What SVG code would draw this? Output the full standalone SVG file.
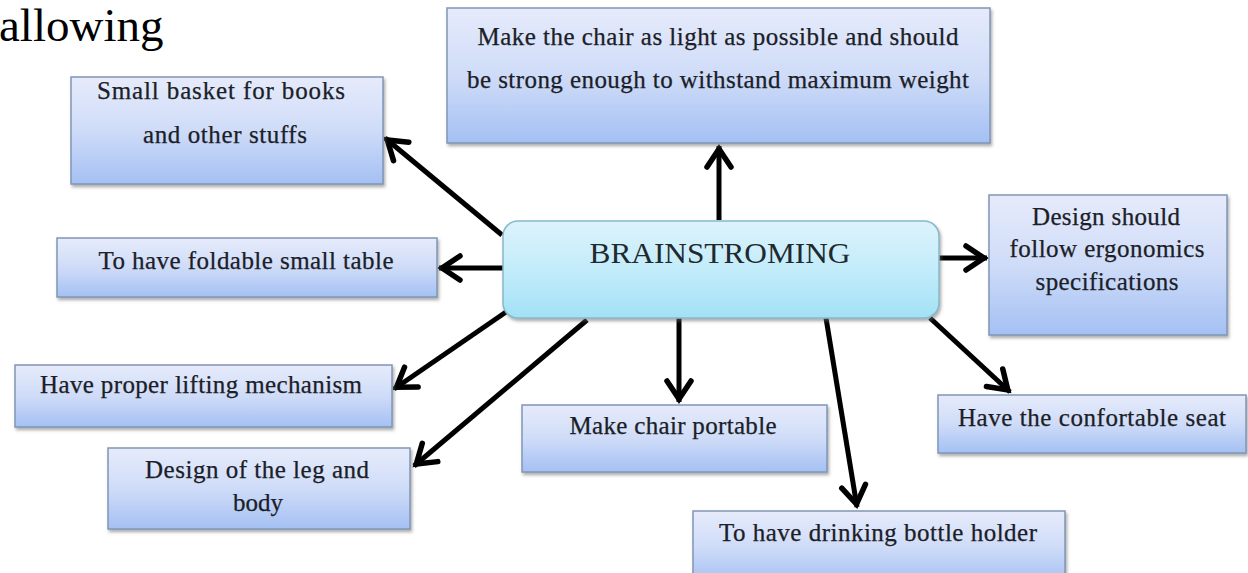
<svg xmlns="http://www.w3.org/2000/svg" width="1248" height="573" viewBox="0 0 1248 573">
  <defs>
    <linearGradient id="boxFill" x1="0" y1="0" x2="0" y2="1">
      <stop offset="0" stop-color="#e6ebfb"/>
      <stop offset="0.5" stop-color="#cfdcf8"/>
      <stop offset="1" stop-color="#a4c0f3"/>
    </linearGradient>
    <linearGradient id="hubFill" x1="0" y1="0" x2="0" y2="1">
      <stop offset="0" stop-color="#dcf3fb"/>
      <stop offset="0.5" stop-color="#c3ecfa"/>
      <stop offset="1" stop-color="#a2e1f6"/>
    </linearGradient>
    <filter id="shadow" x="-5%" y="-10%" width="112%" height="130%">
      <feDropShadow dx="1.5" dy="2.5" stdDeviation="1.6" flood-color="#6d6d6d" flood-opacity="0.55"/>
    </filter>
    <marker id="head" markerUnits="userSpaceOnUse" viewBox="-26 -17 32 34" refX="3" refY="0" markerWidth="32" markerHeight="34" orient="auto">
      <path d="M-18,-12 L0,0 L-18,12" fill="none" stroke="#000" stroke-width="5.5" stroke-linecap="round" stroke-linejoin="miter"/>
    </marker>
  </defs>
  <style>
    .box { fill: url(#boxFill); stroke: #8196b6; stroke-width: 1.5; filter: url(#shadow); }
    .hub { fill: url(#hubFill); stroke: #86b9c9; stroke-width: 1.5; filter: url(#shadow); }
    .t { font-family: "Liberation Serif", "Times New Roman", serif; font-size: 25px; fill: #1b2026; text-anchor: middle; stroke: #1b2026; stroke-width: 0.25; }
    .hubt { font-family: "Liberation Serif", "Times New Roman", serif; font-size: 30px; fill: #1e2a30; text-anchor: middle; }
    .edge { stroke: #000; stroke-width: 5; fill: none; marker-end: url(#head); }
  </style>

  <rect width="1248" height="573" fill="#ffffff"/>

  <!-- heading fragment at top left -->
  <text x="-1" y="41" font-family="Liberation Serif, serif" font-size="47" fill="#000">allowing</text>

  <!-- connectors from the hub to each idea -->
  <g id="connectors">
    <line class="edge" x1="719" y1="220" x2="719" y2="146"/>
    <line class="edge" x1="502" y1="235" x2="385" y2="138"/>
    <line class="edge" x1="503" y1="268" x2="439" y2="268"/>
    <line class="edge" x1="939" y1="258" x2="987" y2="258"/>
    <line class="edge" x1="506" y1="312" x2="394" y2="389"/>
    <line class="edge" x1="587" y1="320" x2="414" y2="466"/>
    <line class="edge" x1="679" y1="318" x2="679" y2="402"/>
    <line class="edge" x1="826" y1="318" x2="857" y2="507"/>
    <line class="edge" x1="930" y1="318" x2="1010" y2="392"/>
  </g>

  <g id="hub">
    <rect class="hub" x="503" y="221" width="436" height="97" rx="15" ry="15"/>
    <text class="hubt" x="720" y="263" textLength="261" lengthAdjust="spacingAndGlyphs">BRAINSTROMING</text>
  </g>

  <g id="light-strong">
    <rect class="box" x="447" y="8" width="543" height="135"/>
    <text class="t" x="718" y="45" font-size="26" textLength="481" lengthAdjust="spacing">Make the chair as light as possible and should</text>
    <text class="t" x="718" y="88" font-size="26" textLength="502" lengthAdjust="spacing">be strong enough to withstand maximum weight</text>
  </g>

  <g id="basket">
    <rect class="box" x="71" y="77" width="312" height="107"/>
    <text class="t" x="221" y="99" textLength="248" lengthAdjust="spacing">Small basket for books</text>
    <text class="t" x="225" y="143" textLength="164" lengthAdjust="spacing">and other stuffs</text>
  </g>

  <g id="foldable-table">
    <rect class="box" x="57" y="238" width="380" height="59"/>
    <text class="t" x="246" y="269" textLength="295" lengthAdjust="spacing">To have foldable small table</text>
  </g>

  <g id="lifting">
    <rect class="box" x="15" y="365" width="377" height="62"/>
    <text class="t" x="201" y="393" textLength="322" lengthAdjust="spacing">Have proper lifting mechanism</text>
  </g>

  <g id="leg-body">
    <rect class="box" x="108" y="448" width="302" height="81"/>
    <text class="t" x="257" y="478" textLength="224" lengthAdjust="spacing">Design of the leg and</text>
    <text class="t" x="258" y="511">body</text>
  </g>

  <g id="portable">
    <rect class="box" x="522" y="405" width="305" height="67"/>
    <text class="t" x="673" y="434" textLength="207" lengthAdjust="spacing">Make chair portable</text>
  </g>

  <g id="bottle">
    <rect class="box" x="693" y="511" width="372" height="72"/>
    <text class="t" x="878" y="541" textLength="318" lengthAdjust="spacing">To have drinking bottle holder</text>
  </g>

  <g id="ergonomics">
    <rect class="box" x="989" y="195" width="238" height="140"/>
    <text class="t" x="1106" y="225" textLength="148" lengthAdjust="spacing">Design should</text>
    <text class="t" x="1107" y="257" textLength="195" lengthAdjust="spacing">follow ergonomics</text>
    <text class="t" x="1107" y="290" textLength="143" lengthAdjust="spacing">specifications</text>
  </g>

  <g id="seat">
    <rect class="box" x="938" y="395" width="308" height="58"/>
    <text class="t" x="1092" y="426" textLength="268" lengthAdjust="spacing">Have the confortable seat</text>
  </g>
</svg>
